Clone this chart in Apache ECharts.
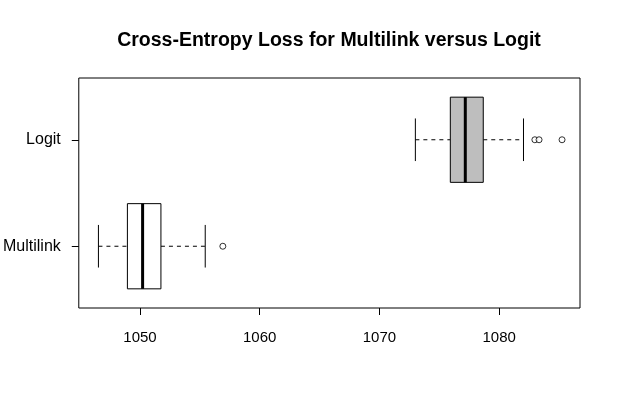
<!DOCTYPE html>
<html>
<head>
<meta charset="utf-8">
<script src="https://cdn.jsdelivr.net/npm/echarts@6/dist/echarts.min.js"></script>
<style>
html,body{margin:0;padding:0;background:#fff;}
#chart{width:621px;height:406px;}
</style>
</head>
<body>
<div id="chart"></div>
<script>
// ---- data ----
var categories = ['Multilink', 'Logit'];
var whiskerLow = [1046.53, 1073.00];
var quartile1 = [1048.95, 1075.92];
var medians = [1050.22, 1077.17];
var quartile3 = [1051.75, 1078.67];
var whiskerHigh = [1055.45, 1082.03];
var outliersMultilink = [1056.92];
var outliersLogit = [1082.98, 1083.33, 1085.25];
var boxFills = ['#ffffff', '#bebebe'];
var xTicks = [1050, 1060, 1070, 1080];
var titleText = 'Cross-Entropy Loss for Multilink versus Logit';

var FONT = '"Liberation Sans", Arial, sans-serif';

var boxData = categories.map(function (c, i) {
  return [i + 1, whiskerLow[i], quartile1[i], medians[i], quartile3[i], whiskerHigh[i]];
});
var outlierData = [];
outliersMultilink.forEach(function (v) { outlierData.push([v, 1]); });
outliersLogit.forEach(function (v) { outlierData.push([v, 2]); });

function renderBox(params, api) {
  var y = api.value(0);
  var lo = api.coord([api.value(1), y]);
  var q1 = api.coord([api.value(2), y]);
  var md = api.coord([api.value(3), y]);
  var q3 = api.coord([api.value(4), y]);
  var hi = api.coord([api.value(5), y]);
  var boxH = api.size([0, 0.8])[1];
  var capH = api.size([0, 0.4])[1];
  var cy = lo[1];
  var fill = boxFills[params.dataIndex];
  var children = [
    {type: 'line', shape: {x1: lo[0], y1: cy, x2: q1[0], y2: cy},
     style: {stroke: '#000', lineWidth: 1, lineDash: [4, 4]}},
    {type: 'line', shape: {x1: q3[0], y1: cy, x2: hi[0], y2: cy},
     style: {stroke: '#000', lineWidth: 1, lineDash: [4, 4]}},
    {type: 'line', shape: {x1: lo[0], y1: cy - capH / 2, x2: lo[0], y2: cy + capH / 2},
     style: {stroke: '#000', lineWidth: 1}},
    {type: 'line', shape: {x1: hi[0], y1: cy - capH / 2, x2: hi[0], y2: cy + capH / 2},
     style: {stroke: '#000', lineWidth: 1}},
    {type: 'rect', shape: {x: q1[0], y: cy - boxH / 2, width: q3[0] - q1[0], height: boxH},
     style: {fill: fill, stroke: '#000', lineWidth: 1}},
    {type: 'line', shape: {x1: md[0], y1: cy - boxH / 2, x2: md[0], y2: cy + boxH / 2},
     style: {stroke: '#000', lineWidth: 3}}
  ];
  return {type: 'group', children: children};
}

var chart = echarts.init(document.getElementById('chart'), null, {renderer: 'canvas'});
chart.setOption({
  animation: false,
  backgroundColor: '#ffffff',
  graphic: [{
    type: 'text', x: 329, y: 41,
    style: {text: titleText, font: 'bold 19.5px ' + FONT, fill: '#000',
            textAlign: 'center', textVerticalAlign: 'middle'}
  }],
  grid: {left: 78, top: 78, width: 502, height: 230, show: true,
         borderColor: '#000', borderWidth: 1, backgroundColor: 'transparent'},
  xAxis: {
    type: 'value', min: 1044.89, max: 1086.75,
    axisLine: {show: false},
    splitLine: {show: false},
    axisTick: {show: true, length: 7, lineStyle: {color: '#000'}, customValues: xTicks},
    axisLabel: {customValues: xTicks, color: '#000', fontSize: 15, fontFamily: FONT, margin: 22,
      formatter: function (v) { return String(Math.round(v)); }}
  },
  yAxis: {
    type: 'value', min: 0.42, max: 2.58,
    axisLine: {show: false},
    splitLine: {show: false},
    axisTick: {show: true, length: 7, lineStyle: {color: '#000'}, customValues: [1, 2]},
    axisLabel: {customValues: [1, 2], color: '#000', fontSize: 16, fontFamily: FONT, margin: 18,
      formatter: function (v) { return categories[Math.round(v) - 1]; }}
  },
  series: [{
    type: 'custom',
    renderItem: renderBox,
    data: boxData,
    encode: {x: [1, 2, 3, 4, 5], y: 0},
    clip: false
  }, {
    type: 'scatter',
    data: outlierData,
    symbol: 'circle',
    symbolSize: 6,
    itemStyle: {color: '#ffffff', borderColor: '#000', borderWidth: 1}
  }]
});
</script>
</body>
</html>
